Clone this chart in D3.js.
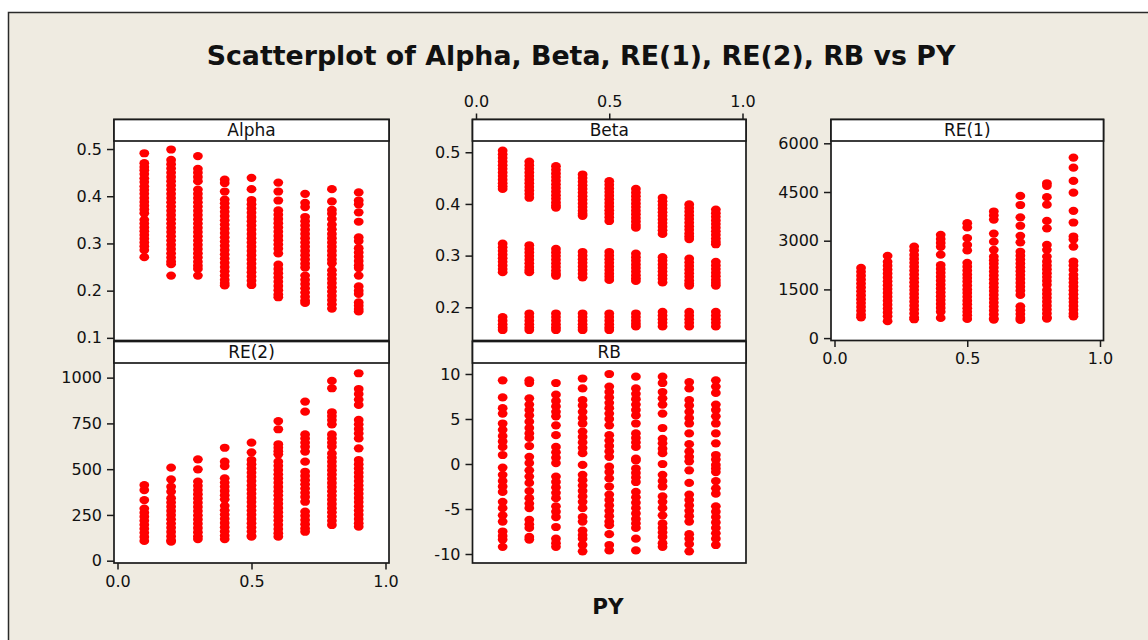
<!DOCTYPE html>
<html>
<head>
<meta charset="utf-8">
<script src="https://cdn.jsdelivr.net/npm/d3@7"></script>
<style>
  html, body { margin: 0; padding: 0; background: #ffffff; }
  svg text { font-family: "DejaVu Sans", Verdana, sans-serif; fill: #111; }
</style>
</head>
<body>
<svg id="chart" width="1148" height="640"></svg>
<script>
// PY levels (x for every panel)
const py = [0.1, 0.2, 0.3, 0.4, 0.5, 0.6, 0.7, 0.8, 0.9];
const pyTicks = [0, 0.5, 1];

// Observed values per PY level
const alpha = [
  [0.491, 0.470, 0.462, 0.455, 0.447, 0.438, 0.430, 0.421, 0.413, 0.405, 0.396, 0.388, 0.380, 0.372, 0.364, 0.350, 0.342, 0.334, 0.326, 0.318, 0.310, 0.302, 0.294, 0.286, 0.271],
  [0.499, 0.477, 0.468, 0.459, 0.450, 0.441, 0.432, 0.423, 0.414, 0.405, 0.396, 0.387, 0.378, 0.369, 0.360, 0.351, 0.342, 0.333, 0.324, 0.315, 0.306, 0.297, 0.288, 0.279, 0.270, 0.262, 0.256, 0.232],
  [0.485, 0.458, 0.450, 0.441, 0.432, 0.414, 0.405, 0.396, 0.387, 0.378, 0.369, 0.360, 0.351, 0.342, 0.333, 0.324, 0.315, 0.306, 0.297, 0.288, 0.279, 0.270, 0.261, 0.253, 0.246, 0.232],
  [0.435, 0.428, 0.410, 0.393, 0.385, 0.376, 0.367, 0.358, 0.349, 0.340, 0.331, 0.322, 0.313, 0.304, 0.295, 0.286, 0.277, 0.268, 0.259, 0.250, 0.241, 0.232, 0.223, 0.216, 0.211],
  [0.439, 0.415, 0.392, 0.383, 0.374, 0.365, 0.356, 0.347, 0.338, 0.329, 0.320, 0.311, 0.302, 0.293, 0.284, 0.275, 0.266, 0.257, 0.248, 0.239, 0.230, 0.221, 0.212],
  [0.429, 0.410, 0.391, 0.370, 0.361, 0.352, 0.343, 0.334, 0.325, 0.316, 0.307, 0.298, 0.289, 0.279, 0.255, 0.246, 0.237, 0.228, 0.219, 0.210, 0.201, 0.192, 0.186],
  [0.405, 0.386, 0.377, 0.356, 0.347, 0.338, 0.329, 0.320, 0.311, 0.302, 0.293, 0.284, 0.275, 0.266, 0.257, 0.249, 0.232, 0.223, 0.214, 0.205, 0.196, 0.187, 0.179, 0.174],
  [0.415, 0.389, 0.371, 0.363, 0.352, 0.340, 0.330, 0.320, 0.311, 0.302, 0.293, 0.284, 0.275, 0.266, 0.258, 0.243, 0.234, 0.225, 0.216, 0.207, 0.198, 0.189, 0.180, 0.171, 0.162],
  [0.408, 0.391, 0.383, 0.366, 0.346, 0.313, 0.305, 0.290, 0.281, 0.272, 0.263, 0.254, 0.248, 0.232, 0.209, 0.200, 0.193, 0.175, 0.168, 0.161, 0.156]
];

const beta = [
  [0.503, 0.496, 0.489, 0.482, 0.475, 0.468, 0.461, 0.454, 0.447, 0.440, 0.434, 0.429, 0.323, 0.316, 0.309, 0.302, 0.295, 0.288, 0.281, 0.274, 0.268, 0.181, 0.174, 0.167, 0.161, 0.156],
  [0.482, 0.475, 0.468, 0.461, 0.454, 0.447, 0.440, 0.433, 0.426, 0.419, 0.412, 0.320, 0.313, 0.306, 0.299, 0.292, 0.285, 0.278, 0.272, 0.268, 0.188, 0.181, 0.174, 0.167, 0.161, 0.156],
  [0.473, 0.466, 0.459, 0.452, 0.445, 0.438, 0.431, 0.424, 0.417, 0.410, 0.403, 0.397, 0.393, 0.313, 0.306, 0.299, 0.292, 0.285, 0.278, 0.271, 0.265, 0.261, 0.188, 0.181, 0.174, 0.167, 0.161, 0.156],
  [0.457, 0.450, 0.443, 0.436, 0.429, 0.422, 0.415, 0.408, 0.401, 0.394, 0.387, 0.381, 0.377, 0.307, 0.300, 0.293, 0.286, 0.279, 0.272, 0.265, 0.258, 0.188, 0.181, 0.174, 0.167, 0.161, 0.156],
  [0.444, 0.437, 0.430, 0.423, 0.416, 0.409, 0.402, 0.395, 0.388, 0.381, 0.374, 0.367, 0.307, 0.300, 0.293, 0.286, 0.279, 0.272, 0.265, 0.259, 0.253, 0.188, 0.181, 0.174, 0.167, 0.161, 0.156],
  [0.429, 0.422, 0.415, 0.408, 0.401, 0.394, 0.387, 0.380, 0.373, 0.366, 0.359, 0.354, 0.304, 0.297, 0.290, 0.283, 0.276, 0.269, 0.262, 0.256, 0.251, 0.188, 0.181, 0.174, 0.168, 0.163],
  [0.412, 0.405, 0.398, 0.391, 0.384, 0.377, 0.370, 0.363, 0.356, 0.349, 0.342, 0.297, 0.290, 0.283, 0.276, 0.269, 0.262, 0.255, 0.248, 0.191, 0.184, 0.177, 0.170, 0.163],
  [0.399, 0.392, 0.385, 0.378, 0.371, 0.364, 0.357, 0.350, 0.343, 0.337, 0.332, 0.294, 0.287, 0.280, 0.273, 0.266, 0.259, 0.252, 0.246, 0.242, 0.191, 0.184, 0.177, 0.170, 0.163],
  [0.389, 0.382, 0.375, 0.368, 0.361, 0.354, 0.347, 0.340, 0.333, 0.327, 0.322, 0.288, 0.281, 0.274, 0.267, 0.260, 0.253, 0.247, 0.242, 0.191, 0.184, 0.177, 0.170, 0.163]
];

const re1 = [
  [2160, 2040, 1920, 1800, 1680, 1560, 1440, 1320, 1200, 1080, 960, 840, 720, 640],
  [2530, 2350, 2230, 2110, 1990, 1870, 1750, 1630, 1510, 1390, 1270, 1150, 1030, 910, 790, 670, 520],
  [2820, 2700, 2560, 2440, 2320, 2200, 2080, 1960, 1840, 1720, 1600, 1480, 1360, 1240, 1120, 1000, 880, 760, 640, 580],
  [3180, 3050, 2930, 2810, 2570, 2250, 2130, 2010, 1890, 1770, 1650, 1530, 1410, 1290, 1170, 1050, 930, 810, 620],
  [3540, 3410, 3080, 2870, 2700, 2320, 2200, 2080, 1960, 1850, 1740, 1620, 1500, 1390, 1270, 1150, 1040, 920, 810, 700, 590],
  [3900, 3780, 3650, 3220, 2970, 2720, 2510, 2400, 2290, 2170, 2050, 1930, 1810, 1690, 1570, 1450, 1330, 1210, 1090, 970, 850, 730, 610, 570],
  [4380, 4100, 3720, 3460, 3150, 2950, 2660, 2540, 2420, 2300, 2180, 2060, 1940, 1820, 1700, 1580, 1460, 1330, 980, 860, 740, 620, 560],
  [4770, 4690, 4340, 4110, 3610, 3380, 2870, 2720, 2510, 2360, 2240, 2120, 2000, 1880, 1760, 1640, 1480, 1360, 1240, 1120, 1000, 880, 760, 640, 600],
  [5560, 5250, 4840, 4480, 3920, 3560, 3130, 3040, 2820, 2360, 2240, 2100, 1950, 1830, 1710, 1590, 1470, 1350, 1230, 1110, 990, 870, 750, 670]
];

const re2 = [
  [413, 386, 331, 285, 262, 240, 218, 196, 174, 152, 130, 108],
  [508, 444, 404, 377, 341, 318, 295, 272, 249, 226, 203, 180, 157, 134, 112, 104],
  [554, 499, 432, 409, 386, 363, 340, 317, 294, 271, 248, 225, 202, 179, 156, 133, 118],
  [617, 541, 517, 450, 427, 404, 381, 358, 335, 300, 275, 252, 229, 206, 183, 160, 137, 118],
  [645, 592, 550, 527, 504, 481, 458, 435, 412, 389, 366, 343, 320, 297, 274, 251, 228, 205, 182, 159, 136, 131],
  [763, 718, 636, 617, 598, 581, 541, 518, 495, 472, 449, 426, 403, 380, 357, 334, 311, 288, 265, 242, 219, 196, 173, 150, 131],
  [869, 814, 690, 668, 645, 622, 596, 541, 486, 463, 440, 417, 394, 371, 348, 322, 268, 245, 222, 199, 176, 158],
  [982, 942, 811, 790, 768, 745, 690, 668, 645, 623, 586, 563, 540, 517, 494, 471, 448, 425, 402, 379, 356, 333, 310, 287, 264, 241, 218, 195],
  [1024, 938, 910, 880, 851, 769, 745, 720, 695, 668, 614, 550, 527, 504, 481, 458, 435, 412, 389, 366, 343, 320, 297, 274, 251, 228, 205, 186]
];

const rb = [
  [9.3, 7.4, 6.2, 5.6, 4.5, 3.8, 3.1, 2.5, 1.9, 1.0, -0.4, -1.2, -1.9, -2.5, -3.1, -4.2, -4.9, -5.7, -6.4, -7.5, -8.0, -8.4, -9.2],
  [9.3, 9.0, 7.3, 6.6, 6.0, 5.4, 4.7, 4.0, 3.4, 2.9, 2.0, 0.8, 0.1, -0.7, -1.4, -2.1, -3.0, -3.8, -4.4, -4.9, -6.2, -6.7, -7.1, -8.1, -8.4],
  [9.0, 7.7, 7.0, 6.4, 5.8, 5.3, 4.3, 3.2, 1.9, 1.3, 0.7, 0.1, -1.4, -2.0, -2.6, -3.2, -3.8, -4.7, -5.3, -5.9, -7.0, -8.3, -8.8, -9.2],
  [9.5, 8.4, 7.1, 6.5, 5.8, 5.1, 4.5, 3.6, 3.0, 2.4, 1.8, 1.2, -0.1, -1.2, -1.8, -2.4, -3.0, -3.6, -4.2, -4.9, -5.9, -6.4, -7.4, -7.9, -8.3, -9.0, -9.7],
  [10.0, 8.6, 8.0, 7.4, 6.8, 6.2, 5.6, 5.0, 4.3, 3.2, 2.6, 2.0, 1.4, 0.8, -0.3, -0.9, -1.6, -2.5, -3.4, -4.0, -4.6, -5.2, -5.8, -6.4, -6.8, -7.8, -9.0, -9.6],
  [9.7, 8.4, 7.8, 7.2, 6.6, 6.0, 5.4, 4.5, 3.4, 2.9, 2.4, 1.9, 0.6, 0.4, -0.5, -1.0, -1.5, -2.0, -3.1, -3.7, -4.3, -4.9, -5.5, -6.1, -6.6, -7.1, -8.3, -9.6],
  [9.7, 9.0, 8.0, 7.3, 6.6, 5.6, 4.0, 2.8, 2.3, 1.7, 1.2, 0.0, -1.2, -1.9, -2.5, -3.6, -4.2, -4.9, -5.7, -6.6, -7.1, -7.6, -8.1, -8.8, -9.2],
  [9.1, 8.4, 7.1, 6.5, 5.8, 5.1, 4.5, 3.4, 2.2, 1.4, 0.8, 0.3, -0.7, -2.1, -3.4, -4.0, -4.6, -5.2, -5.8, -6.4, -7.8, -8.3, -8.9, -9.7],
  [9.3, 8.6, 7.9, 6.6, 6.0, 5.3, 4.5, 3.4, 2.3, 1.0, 0.5, -0.1, -0.5, -0.9, -1.9, -2.7, -3.3, -4.7, -5.3, -5.9, -6.5, -7.1, -7.7, -8.3, -9.0]
];

// Tick labels of each panel's value axis
const alphaTicks = [0.1, 0.2, 0.3, 0.4, 0.5];
const betaTicks = [0.2, 0.3, 0.4, 0.5];
const re1Ticks = [0, 1500, 3000, 4500, 6000];
const re2Ticks = [0, 250, 500, 750, 1000];
const rbTicks = [-10, -5, 0, 5, 10];

// ---- layout ----
const W = 1148, H = 640;
const cols = [[114, 389], [472.5, 746], [831, 1103.5]];
const rows = [
  { stripTop: 119.5, plotTop: 141, plotBottom: 340.5 },
  { stripTop: 341.5, plotTop: 363, plotBottom: 563 }
];
const xPad = 3.5;
const red = "#ff0000";
const fmt1 = d3.format(".1f");
const fmtInt = d => String(d);   // plain hyphen-minus for negatives

const panels = [
  { name: "Alpha", values: alpha, ticks: alphaTicks, domain: [0.0944, 0.517], col: 0, row: 0, xAxis: null, fmt: fmt1 },
  { name: "Beta", values: beta, ticks: betaTicks, domain: [0.1357, 0.5218], col: 1, row: 0, xAxis: "top", fmt: fmt1 },
  { name: "RE(1)", values: re1, ticks: re1Ticks, domain: [-74, 6071], col: 2, row: 0, xAxis: "bottom", fmt: fmtInt },
  { name: "RE(2)", values: re2, ticks: re2Ticks, domain: [-12.6, 1080], col: 0, row: 1, xAxis: "bottom", fmt: fmtInt },
  { name: "RB", values: rb, ticks: rbTicks, domain: [-11, 11.22], col: 1, row: 1, xAxis: null, fmt: fmtInt }
];

const svg = d3.select("#chart");

// page background and outer border
svg.append("rect").attr("x", 0).attr("y", 0).attr("width", W).attr("height", H).attr("fill", "#ffffff");
svg.append("rect")
  .attr("x", 8.5).attr("y", 12.5).attr("width", W + 20).attr("height", H + 20)
  .attr("fill", "#efebe1").attr("stroke", "#2a2a2a").attr("stroke-width", 1.5);

// title
svg.append("text")
  .attr("x", 581).attr("y", 65)
  .attr("text-anchor", "middle")
  .style("font-weight", "bold").style("font-size", "26.8px")
  .text("Scatterplot of Alpha, Beta, RE(1), RE(2), RB vs PY");

// x axis title
svg.append("text")
  .attr("x", 608).attr("y", 614)
  .attr("text-anchor", "middle")
  .style("font-weight", "bold").style("font-size", "21.5px")
  .text("PY");

panels.forEach(p => {
  const [x0, x1] = cols[p.col];
  const r = rows[p.row];
  const x = d3.scaleLinear().domain([0, 1]).range([x0 + xPad, x1 - xPad]);
  const y = d3.scaleLinear().domain(p.domain).range([r.plotBottom, r.plotTop]);

  const g = svg.append("g");

  // plot area
  g.append("rect")
    .attr("x", x0).attr("y", r.plotTop)
    .attr("width", x1 - x0).attr("height", r.plotBottom - r.plotTop)
    .attr("fill", "#ffffff");

  // points
  const pts = [];
  p.values.forEach((vals, i) => vals.forEach(v => pts.push({ px: py[i], v })));
  g.append("g").selectAll("ellipse").data(pts).join("ellipse")
    .attr("cx", d => x(d.px)).attr("cy", d => y(d.v))
    .attr("rx", 4.9).attr("ry", 4.1)
    .attr("fill", red);

  // frame
  g.append("rect")
    .attr("x", x0).attr("y", r.stripTop)
    .attr("width", x1 - x0).attr("height", r.plotBottom - r.stripTop)
    .attr("fill", "none").attr("stroke", "#1a1a1a").attr("stroke-width", 1.7);

  // strip
  g.append("rect")
    .attr("x", x0).attr("y", r.stripTop)
    .attr("width", x1 - x0).attr("height", r.plotTop - r.stripTop)
    .attr("fill", "#ffffff").attr("stroke", "#1a1a1a").attr("stroke-width", 1.7);
  g.append("text")
    .attr("x", (x0 + x1) / 2).attr("y", r.stripTop + 16)
    .attr("text-anchor", "middle")
    .style("font-size", "17px")
    .text(p.name);

  // value axis
  const ya = g.append("g").attr("transform", `translate(${x0},0)`)
    .call(d3.axisLeft(y).tickValues(p.ticks).tickFormat(p.fmt).tickSize(7).tickPadding(5));
  ya.select(".domain").remove();

  // PY axis
  if (p.xAxis === "bottom") {
    g.append("g").attr("transform", `translate(0,${r.plotBottom})`)
      .call(d3.axisBottom(x).tickValues(pyTicks).tickFormat(fmt1).tickSize(6.5).tickPadding(6))
      .call(a => a.select(".domain").remove());
  } else if (p.xAxis === "top") {
    g.append("g").attr("transform", `translate(0,${r.stripTop})`)
      .call(d3.axisTop(x).tickValues(pyTicks).tickFormat(fmt1).tickSize(6).tickPadding(6.5))
      .call(a => a.select(".domain").remove());
  }
});

svg.selectAll(".tick line").attr("stroke", "#1a1a1a").attr("stroke-width", 1.5);
svg.selectAll(".tick text")
  .attr("fill", "#111")
  .style("font-family", "\"DejaVu Sans\", Verdana, sans-serif")
  .style("font-size", "16px");
</script>
</body>
</html>
